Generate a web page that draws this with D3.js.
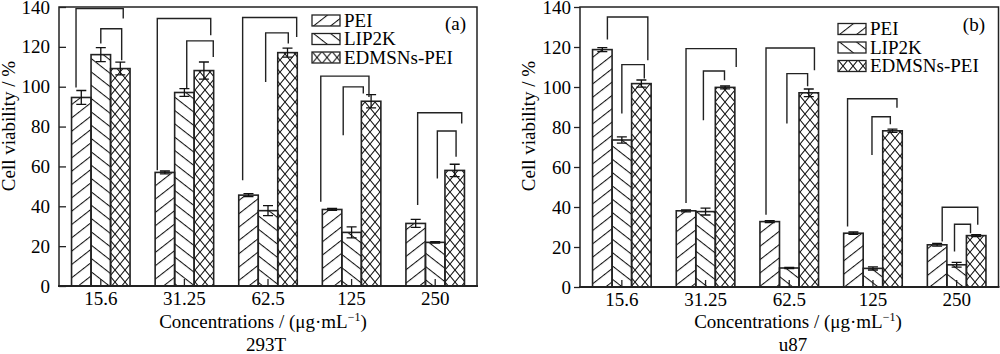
<!DOCTYPE html>
<html>
<head>
<meta charset="utf-8">
<script src="https://cdn.jsdelivr.net/npm/d3@7/dist/d3.min.js"></script>
<style>
  body { margin: 0; background: #fff; }
  text { font-family: "Liberation Serif", "Times New Roman", serif; fill: #000; }
</style>
</head>
<body>
<svg id="chart" width="1000" height="354"></svg>
<script>
const categories = ["15.6", "31.25", "62.5", "125", "250"];
const series = ["PEI", "LIP2K", "EDMSNs-PEI"];
const yTicks = [0, 20, 40, 60, 80, 100, 120, 140];

// 293T cells
const pei293T = [94.6, 57.0, 45.6, 38.4, 31.4];
const pei293TErr = [3.5, 0.7, 0.8, 0.5, 2.0];
const lip293T = [116.1, 97.1, 37.8, 26.9, 21.9];
const lip293TErr = [3.5, 1.9, 2.5, 2.8, 0.4];
const edm293T = [109.1, 108.1, 117.1, 92.7, 58.0];
const edm293TErr = [3.2, 4.3, 2.3, 3.3, 3.1];

// u87 cells
const peiU87 = [118.7, 38.1, 32.7, 26.9, 21.1];
const peiU87Err = [1.0, 0.5, 0.5, 0.6, 0.7];
const lipU87 = [73.5, 37.7, 9.5, 9.3, 11.1];
const lipU87Err = [1.6, 1.7, 0.3, 0.8, 1.2];
const edmU87 = [101.7, 99.8, 97.1, 78.1, 25.7];
const edmU87Err = [1.8, 0.7, 1.9, 0.8, 0.5];

// significance brackets: [category index, left leg (series pos), right leg (series pos), top, left leg end, right leg end]
const brackets293T = [
    [0, -0.27, 2.15, 139.2, 99.6, 134.2],
    [0, 1.0, 2.07, 129.1, 121.7, 113.3],
    [1, -0.39, 2.35, 134.2, 58.1, 125.8],
    [1, 1.12, 2.48, 123.0, 99.2, 114.9],
    [2, -0.3, 2.47, 134.7, 53.1, 125.0],
    [2, 0.88, 2.04, 127.0, 102.4, 121.7],
    [3, -0.58, 1.89, 105.3, 42.3, 94.9],
    [3, 0.57, 1.6, 99.9, 75.7, 96.6],
    [4, 0.1, 2.36, 86.9, 40.6, 81.6],
    [4, 1.11, 2.07, 77.8, 54.0, 64.8]
];
const bracketsU87 = [
    [0, 0.26, 2.33, 135.0, 123.7, 113.4],
    [0, 1.0, 2.15, 111.2, 86.8, 104.2],
    [1, 0.0, 2.57, 119.2, 42.0, 110.0],
    [1, 0.89, 1.97, 108.0, 83.4, 103.4],
    [2, -0.19, 2.29, 119.5, 36.1, 108.4],
    [2, 0.88, 1.94, 106.7, 81.8, 100.4],
    [3, -0.3, 2.23, 94.1, 30.2, 89.6],
    [3, 0.95, 1.89, 85.1, 66.0, 81.4],
    [4, 0.26, 2.08, 39.9, 22.7, 31.1],
    [4, 0.89, 1.71, 31.4, 17.8, 26.9]
];

const svg = d3.select('#chart');
svg.append('rect').attr('width', 1000).attr('height', 354).attr('fill', '#fff');

// Hatch patterns
const defs = svg.append('defs');
function lineHatch(id, angle) {
    const p = defs.append('pattern')
        .attr('id', id)
        .attr('patternUnits', 'userSpaceOnUse')
        .attr('width', 10)
        .attr('height', 10.5)
        .attr('patternTransform', `rotate(${angle})`);
    p.append('line')
        .attr('x1', 0).attr('x2', 10)
        .attr('y1', 0.5).attr('y2', 0.5)
        .attr('stroke', '#111').attr('stroke-width', 1.1);
}
lineHatch('hatch-pei', -38);
lineHatch('hatch-lip', 38);
const cross = defs.append('pattern')
    .attr('id', 'hatch-edm')
    .attr('patternUnits', 'userSpaceOnUse')
    .attr('width', 10)
    .attr('height', 12);
cross.append('path')
    .attr('d', 'M0,0L10,12M10,0L0,12')
    .attr('stroke', '#111').attr('stroke-width', 1.1).attr('fill', 'none');
const fills = ['url(#hatch-pei)', 'url(#hatch-lip)', 'url(#hatch-edm)'];

function drawPanel(cfg) {
    const g = svg.append('g');
    const vals = [cfg.pei, cfg.lip, cfg.edm];
    const errs = [cfg.peiErr, cfg.lipErr, cfg.edmErr];

    const x = d3.scaleBand()
        .domain(categories)
        .range([cfg.left, cfg.right])
        .paddingInner(0.3)
        .paddingOuter(0.15);
    const xs = d3.scaleBand().domain(series).range([0, x.bandwidth()]);
    const xp = d3.scaleLinear().domain([0, 2])
        .range([xs.bandwidth() / 2, x.bandwidth() - xs.bandwidth() / 2]);
    const y = d3.scaleLinear().domain([0, 140]).range([cfg.bottom, cfg.top]);

    const rows = categories.flatMap((c, i) => series.map((s, j) => ({
        cat: c, s, j, v: vals[j][i], e: errs[j][i]
    })));

    // bars
    g.append('g').selectAll('rect')
        .data(rows)
        .join('rect')
        .attr('x', d => x(d.cat) + xs(d.s))
        .attr('y', d => y(d.v))
        .attr('width', xs.bandwidth())
        .attr('height', d => y(0) - y(d.v))
        .attr('fill', d => fills[d.j])
        .attr('stroke', '#222')
        .attr('stroke-width', 1.6);

    // error bars
    const eb = g.append('g').attr('stroke', '#111').attr('stroke-width', 1.3).attr('fill', 'none');
    eb.selectAll('path')
        .data(rows)
        .join('path')
        .attr('d', d => {
            const cx = x(d.cat) + xs(d.s) + xs.bandwidth() / 2;
            const y1 = y(d.v + d.e), y0 = y(d.v - d.e);
            return `M${cx},${y0}V${y1}M${cx - 5},${y1}H${cx + 5}M${cx - 5},${y0}H${cx + 5}`;
        });

    // brackets
    g.append('g').attr('stroke', '#222').attr('stroke-width', 1.4).attr('fill', 'none')
        .selectAll('path')
        .data(cfg.brackets)
        .join('path')
        .attr('d', ([ci, pl, pr, top, lb, rb]) => {
            const x0 = x(categories[ci]);
            return `M${x0 + xp(pl)},${y(lb)}V${y(top)}H${x0 + xp(pr)}V${y(rb)}`;
        });

    // x axis (inward ticks)
    const xAxis = g.append('g')
        .attr('transform', `translate(0,${cfg.bottom})`)
        .call(d3.axisBottom(x).tickSize(-7).tickPadding(6));
    xAxis.select('.domain').remove();
    xAxis.selectAll('.tick line').attr('stroke', '#222').attr('stroke-width', 1.3);
    xAxis.selectAll('text').attr('font-size', 19).attr('fill', '#000')
        .attr('font-family', '"Liberation Serif", serif');

    // y axis
    const yAxis = g.append('g')
        .attr('transform', `translate(${cfg.left},0)`)
        .call(d3.axisLeft(y).tickValues(yTicks).tickSize(cfg.tickSize).tickPadding(cfg.tickPad));
    yAxis.select('.domain').remove();
    yAxis.selectAll('.tick line').attr('stroke', '#222').attr('stroke-width', 1.3);
    yAxis.selectAll('text').attr('font-size', 19).attr('fill', '#000')
        .attr('font-family', '"Liberation Serif", serif');

    // frame
    g.append('path')
        .attr('d', `M${cfg.left},${cfg.bottom}V${cfg.top}H${cfg.right}V${cfg.bottom}`)
        .attr('fill', 'none').attr('stroke', '#222').attr('stroke-width', 1.5);
    g.append('line')
        .attr('x1', cfg.left - 1).attr('x2', cfg.right + 1)
        .attr('y1', cfg.bottom).attr('y2', cfg.bottom)
        .attr('stroke', '#222').attr('stroke-width', 2);

    // axis titles
    g.append('text')
        .attr('transform', `translate(${cfg.yTitleX},${cfg.yTitleY}) rotate(-90)`)
        .attr('text-anchor', 'middle')
        .attr('font-size', 19)
        .text('Cell viability / %');
    const xt = g.append('text')
        .attr('x', cfg.xTitleX).attr('y', 328)
        .attr('text-anchor', 'middle')
        .attr('font-size', 19)
        .text('Concentrations / (μg·mL');
    xt.append('tspan').attr('font-size', 12).attr('dy', -7).text('−1');
    xt.append('tspan').attr('dy', 7).text(')');
    g.append('text')
        .attr('x', cfg.cellX).attr('y', 351)
        .attr('text-anchor', 'middle')
        .attr('font-size', 19)
        .text(cfg.cell);

    // legend
    const lg = g.append('g').selectAll('g')
        .data(series)
        .join('g')
        .attr('transform', (d, i) => `translate(${cfg.legendX},${cfg.legendY + i * 18.5})`);
    lg.append('rect')
        .attr('x', 0).attr('y', -11.5)
        .attr('width', 28).attr('height', 11)
        .attr('fill', (d, i) => fills[i])
        .attr('stroke', '#222').attr('stroke-width', 1.3);
    lg.append('text')
        .attr('x', 32).attr('y', 0)
        .attr('font-size', 19)
        .text(d => d);

    g.append('text')
        .attr('x', cfg.tagX).attr('y', cfg.tagY)
        .attr('text-anchor', 'end')
        .attr('font-size', 19)
        .text(cfg.tag);
}

drawPanel({
    left: 59, right: 477, top: 7, bottom: 286,
    pei: pei293T, peiErr: pei293TErr,
    lip: lip293T, lipErr: lip293TErr,
    edm: edm293T, edmErr: edm293TErr,
    brackets: brackets293T,
    tickSize: -7, tickPad: 9,
    yTitleX: 15, yTitleY: 126,
    xTitleX: 263, cell: '293T', cellX: 266,
    legendX: 312, legendY: 26.5,
    tag: '(a)', tagX: 466, tagY: 30
});

drawPanel({
    left: 580, right: 998.5, top: 7, bottom: 287,
    pei: peiU87, peiErr: peiU87Err,
    lip: lipU87, lipErr: lipU87Err,
    edm: edmU87, edmErr: edmU87Err,
    brackets: bracketsU87,
    tickSize: 6, tickPad: 3,
    yTitleX: 535, yTitleY: 126,
    xTitleX: 798, cell: 'u87', cellX: 793,
    legendX: 838, legendY: 35,
    tag: '(b)', tagX: 985, tagY: 31
});
</script>
</body>
</html>
